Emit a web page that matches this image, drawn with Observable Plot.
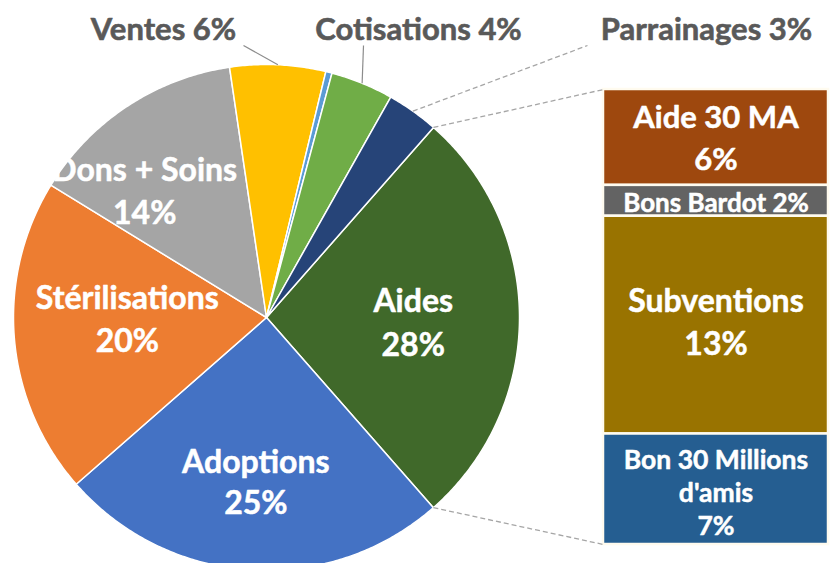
<!DOCTYPE html>
<html><head><meta charset="utf-8">
<script src="https://cdn.jsdelivr.net/npm/d3@7"></script>
<script src="https://cdn.jsdelivr.net/npm/@observablehq/plot@0.6"></script>
<style>body{margin:0;background:#fff;} #chart svg{display:block;}</style>
</head><body><div id="chart"></div>
<script>
// ---- data ----
const pieNames = ["Aides","Adoptions","Stérilisations","Dons + Soins","Ventes","Autres","Cotisations","Parrainages"];
const pieValues = [27.05, 25, 20.2, 13.9, 6.1, 0.4, 4.0, 3.3];
const pieLabels = ["Aides\n28%","Adoptions\n25%","Stérilisations\n20%","Dons + Soins\n14%","Ventes 6%","","Cotisations 4%","Parrainages 3%"];
const pieColors = ["#40692a","#4472c4","#ed7d31","#a5a5a5","#ffc000","#5b9bd5","#70ad47","#264478"];
const barNames = ["Aide 30 MA","Bons Bardot","Subventions","Bon 30 Millions d'amis"];
const barValues = [5.9, 1.9, 13.4, 6.8];
const barLabels = ["Aide 30 MA\n6%","Bons Bardot 2%","Subventions\n13%","Bon 30 Millions\nd'amis\n7%"];
const barColors = ["#9e480e","#636363","#997300","#255e91"];

// ---- layout ----
const W = 830, H = 563;
const pie = {cx: 266, cy: 317, r: 253, start: 41.3};
const bar = {x1: 603, x2: 828, top: 89, bottom: 544};
// inner label placement: [radius fraction, angle offset deg, fontSize, lineHeight]
const innerLab = {0:[0.58,1,32,1.37], 1:[0.645,0,32,1.28], 2:[0.55,5,32,1.34], 3:[0.70,-10,32,1.34]};
// outer labels: label centre and leader end
const outerLab = {4:{x:163,y:30,ex:243,ey:45,dash:null}, 6:{x:418,y:30,ex:363,ey:45,dash:null}, 7:{x:706,y:30,ex:587,ey:45,dash:"4,3"}};
// bar label: [fontSize, lineHeight, vertical shift]
const barFont = [[31,1.35,-2],[26,1.2,1],[32,1.34,-5],[26.5,1.25,2]];

const rad = d => d * Math.PI / 180;
const polar = (deg, rr) => [pie.cx + rr * Math.sin(rad(deg)), pie.cy - rr * Math.cos(rad(deg))];

// slices
const total = d3.sum(pieValues);
let acc = pie.start;
const slices = pieNames.map((name, i) => {
  const a0 = acc, a1 = acc + pieValues[i] / total * 360;
  acc = a1;
  return {name, i, a0, a1, mid: (a0 + a1) / 2, color: pieColors[i], label: pieLabels[i]};
});
const polyPts = slices.flatMap(s => {
  const pts = [{name: s.name, color: s.color, x: pie.cx, y: pie.cy}];
  const n = Math.max(2, Math.ceil((s.a1 - s.a0) / 0.5));
  for (let k = 0; k <= n; k++) {
    const [x, y] = polar(s.a0 + (s.a1 - s.a0) * k / n, pie.r);
    pts.push({name: s.name, color: s.color, x, y});
  }
  return pts;
});

// bar
const barTotal = d3.sum(barValues);
const k = (bar.bottom - bar.top) / barTotal;
let bacc = 0;
const bars = barNames.map((name, i) => {
  const y1 = bar.top + bacc * k; bacc += barValues[i];
  const y2 = bar.top + bacc * k;
  return {name, y1, y2, color: barColors[i], label: barLabels[i], fs: barFont[i][0], lh: barFont[i][1], dy: barFont[i][2]};
});

// inner labels
const inner = slices.filter(s => innerLab[s.i]).map(s => {
  const [rf, off, fs, lh] = innerLab[s.i];
  const [x, y] = polar(s.mid + off, rf * pie.r);
  return {x, y, label: s.label, fs, lh};
});
const outer = slices.filter(s => outerLab[s.i]).map(s => {
  const o = outerLab[s.i];
  const [sx, sy] = polar(s.mid, pie.r);
  return {x: o.x, y: o.y, ex: o.ex, ey: o.ey, sx, sy, label: s.label, dash: o.dash};
});
const aides = slices[0];
const connectors = [
  {p: polar(aides.a0, pie.r), q: [bar.x1, bar.top]},
  {p: polar(aides.a1, pie.r), q: [bar.x1, bar.bottom]}
];

const font = "Lato, 'Open Sans', sans-serif";
const marks = [
  Plot.line(polyPts, {x: "x", y: "y", z: "name", fill: "color", stroke: "white", strokeWidth: 1.5, curve: "linear-closed", strokeLinejoin: "round"}),
  Plot.rect(bars, {x1: () => bar.x1, x2: () => bar.x2, y1: "y1", y2: "y2", fill: "color", stroke: "#fffbef", strokeWidth: 2.5}),
  Plot.link(connectors, {x1: d => d.p[0], y1: d => d.p[1], x2: d => d.q[0], y2: d => d.q[1], stroke: "#a6a6a6", strokeWidth: 1.3, strokeDasharray: "5,3"}),
  Plot.link(outer.filter(d => !d.dash), {x1: "sx", y1: "sy", x2: "ex", y2: "ey", stroke: "#8c8c8c", strokeWidth: 1.2}),
  Plot.link(outer.filter(d => d.dash), {x1: "sx", y1: "sy", x2: "ex", y2: "ey", stroke: "#a6a6a6", strokeWidth: 1.3, strokeDasharray: "5,3"}),
  Plot.text(outer, {x: "x", y: "y", text: "label", fill: "#595959", stroke: "#595959", strokeWidth: 0.6, fontSize: 31, fontWeight: "bold", fontFamily: font}),
];
for (const d of inner) marks.push(Plot.text([d], {x: "x", y: "y", text: "label", fill: "white", stroke: "white", strokeWidth: 0.5, fontSize: d.fs, lineHeight: d.lh, fontWeight: "bold", fontFamily: font}));
for (const d of bars) marks.push(Plot.text([d], {x: () => (bar.x1 + bar.x2) / 2, y: b => (b.y1 + b.y2) / 2 + b.dy, text: "label", fill: "white", stroke: "white", strokeWidth: 0.5, fontSize: d.fs, lineHeight: d.lh, fontWeight: "bold", fontFamily: font}));

const chart = Plot.plot({
  width: W, height: H, margin: 0,
  x: {domain: [0, W], range: [0, W], axis: null},
  y: {domain: [0, H], range: [0, H], axis: null},
  color: {type: "identity"},
  style: {background: "white", fontFamily: font, overflow: "hidden"},
  marks
});
document.getElementById("chart").append(chart);
</script>
</body></html>
